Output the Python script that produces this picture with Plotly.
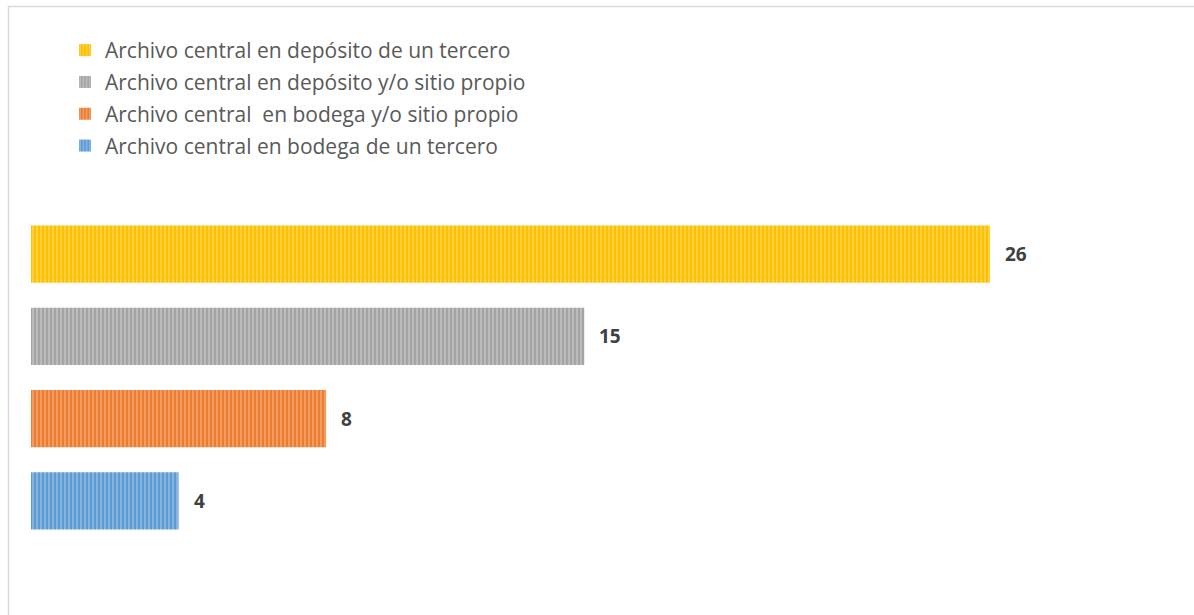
import plotly.graph_objects as go

categories = [
    "Archivo central en bodega de un tercero",
    "Archivo central  en bodega y/o sitio propio",
    "Archivo central en depósito y/o sitio propio",
    "Archivo central en depósito de un tercero",
]
values = [4, 8, 15, 26]
colors = ["#5B9BD5", "#ED7D31", "#A5A5A5", "#FFC000"]
stripe_colors = ["#C5DCF0", "#F8C9A8", "#DCDCDC", "#FFE89A"]

W, H = 1194, 615
ML, MR, MT, MB = 31, 38, 213, 73

fig = go.Figure()
# legend lists the largest first, so add traces from the top bar downwards
for i in reversed(range(len(categories))):
    cat, val = categories[i], values[i]
    fig.add_trace(go.Bar(
        x=[val], y=[cat], orientation="h", name=cat,
        legendgroup=f"g{i}",
        width=0.695,
        marker=dict(color=colors[i], line=dict(width=0),
                    pattern=dict(shape="|", fgcolor=stripe_colors[i], bgcolor=colors[i],
                                 size=4, solidity=0.4, fillmode="overlay")),
        hoverinfo="x+y",
    ))

annotations = []
for cat, val in zip(categories, values):
    annotations.append(dict(
        x=val, y=cat, xref="x", yref="y", text=f"<b>{val}</b>", showarrow=False,
        xanchor="left", yanchor="middle", xshift=13,
        font=dict(family="Open Sans, sans-serif", size=19, color="#404040"),
    ))

fig.update_layout(
    width=W, height=H,
    margin=dict(l=ML, r=MR, t=MT, b=MB, autoexpand=False),
    paper_bgcolor="white", plot_bgcolor="white",
    barmode="overlay",
    showlegend=True,
    legend=dict(
        xref="container", yref="container", x=65 / W, y=1 - 30 / H,
        xanchor="left", yanchor="top",
        traceorder="grouped", tracegroupgap=1.5,
        font=dict(family="Open Sans, sans-serif", size=21, color="#595959"),
        bgcolor="rgba(0,0,0,0)", itemwidth=30,
    ),
    xaxis=dict(range=[0, 30.5], visible=False, fixedrange=True),
    yaxis=dict(categoryorder="array", categoryarray=categories,
               range=[-0.5, 3.5], visible=False),
    annotations=annotations,
    shapes=[dict(type="rect", xref="paper", yref="paper",
                 x0=(8.5 - ML) / (W - ML - MR), x1=(1200 - ML) / (W - ML - MR),
                 y0=-1, y1=1 + (MT - 6.5) / (H - MT - MB),
                 line=dict(color="#D9D9D9", width=1.5), fillcolor="rgba(0,0,0,0)",
                 layer="below")],
)

fig.write_html("out.html", config={"displayModeBar": False},
               post_script="document.body.style.margin='0';")
